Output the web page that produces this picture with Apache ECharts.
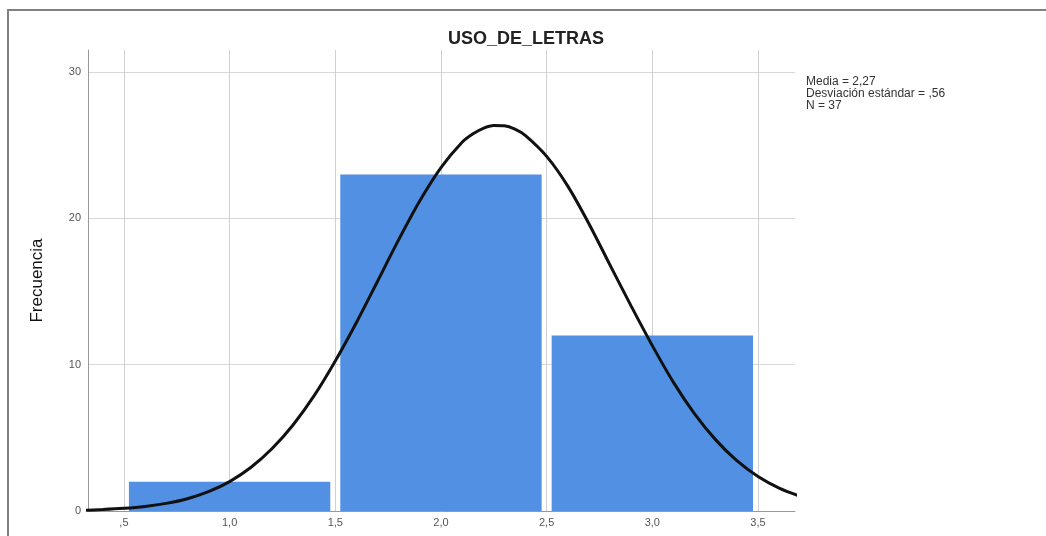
<!DOCTYPE html>
<html>
<head>
<meta charset="utf-8">
<script src="https://cdn.jsdelivr.net/npm/echarts@6/dist/echarts.min.js"></script>
<style>
html,body{margin:0;padding:0;background:#fff;}
#chart{width:1046px;height:536px;}
</style>
</head>
<body>
<div id="chart"></div>
<script>
// Histogram bins (start, end) and frequencies
const binStarts = [0.5, 1.5, 2.5];
const binEnds = [1.5, 2.5, 3.5];
const frequencies = [2, 23, 12];

// Normal curve, points
const curveX = [0.3, 0.4, 0.5, 0.6, 0.7, 0.8, 0.9, 1.0, 1.1, 1.2, 1.3, 1.4, 1.5, 1.6, 1.7, 1.8, 1.9, 2.0, 2.1, 2.15, 2.2, 2.25, 2.3, 2.35, 2.4, 2.5, 2.6, 2.7, 2.8, 2.9, 3.0, 3.1, 3.2, 3.3, 3.4, 3.5, 3.6, 3.7];
const curveY = [0.05, 0.10, 0.18, 0.31, 0.52, 0.84, 1.32, 2.01, 2.97, 4.25, 5.88, 7.88, 10.25, 12.88, 15.7, 18.54, 21.2, 23.47, 25.2, 25.76, 26.15, 26.34, 26.32, 26.09, 25.65, 24.23, 22.2, 19.63, 16.8, 14.0, 11.3, 8.79, 6.64, 4.86, 3.44, 2.36, 1.57, 1.01];

const xTicks = [0.5, 1.0, 1.5, 2.0, 2.5, 3.0, 3.5];
const xTickLabels = [',5', '1,0', '1,5', '2,0', '2,5', '3,0', '3,5'];
const yTicks = [0, 10, 20, 30];

const titleText = 'USO_DE_LETRAS';
const yAxisTitle = 'Frecuencia';
const statsLines = ['Media = 2,27', 'Desviación estándar = ,56', 'N = 37'];

const chart = echarts.init(document.getElementById('chart'));

const barData = binStarts.map((s, i) => [s, binEnds[i], frequencies[i]]);
const lineData = curveX.map((x, i) => [x, curveY[i]]);

const option = {
  backgroundColor: '#fff',
  animation: false,
  title: {
    text: titleText,
    left: 521,
    textAlign: 'center',
    top: 25,
    textStyle: {fontFamily: 'Liberation Sans, Arial', fontSize: 18, fontWeight: 'bold', color: '#222'}
  },
  graphic: [
    {type: 'polyline', shape: {points: [[8, 536], [8, 10], [1046, 10]]}, style: {stroke: '#808080', lineWidth: 2, fill: null}},
    {type: 'text', left: 806, top: 76, style: {text: statsLines.join('\n'), font: '12px Liberation Sans, Arial', fill: '#333', lineHeight: 12}}
  ],
  grid: {left: 88, right: 251, top: 50, bottom: 25, containLabel: false},
  xAxis: {
    type: 'value',
    min: 0.33,
    max: 3.675,
    axisLine: {show: true, lineStyle: {color: '#999', width: 1}},
    axisTick: {show: false, customValues: xTicks},
    axisLabel: {
      customValues: xTicks,
      formatter: function (v) {
        const i = xTicks.findIndex(t => Math.abs(t - v) < 1e-6);
        return i >= 0 ? xTickLabels[i] : '';
      },
      fontFamily: 'Liberation Sans, Arial', fontSize: 11, color: '#555', margin: 6
    },
    splitLine: {show: true, lineStyle: {color: '#d0d0d0', width: 1}}
  },
  yAxis: {
    type: 'value',
    min: 0,
    max: 31.5,
    name: yAxisTitle,
    nameLocation: 'middle',
    nameGap: 42,
    nameTextStyle: {fontFamily: 'Liberation Sans, Arial', fontSize: 17, color: '#111'},
    axisLine: {show: true, lineStyle: {color: '#999', width: 1}},
    axisTick: {show: false, customValues: yTicks},
    axisLabel: {customValues: yTicks, fontFamily: 'Liberation Sans, Arial', fontSize: 11, color: '#555', margin: 7},
    splitLine: {show: true, lineStyle: {color: '#d8d8d8', width: 1}}
  },
  series: [
    {
      type: 'custom',
      data: barData,
      encode: {x: [0, 1], y: 2},
      renderItem: function (params, api) {
        const p0 = api.coord([api.value(0), api.value(2)]);
        const p1 = api.coord([api.value(1), 0]);
        const inset = 5;
        return {
          type: 'rect',
          shape: {x: p0[0] + inset, y: p0[1], width: p1[0] - p0[0] - 2 * inset, height: p1[1] - p0[1]},
          style: {fill: '#5190e2'}
        };
      },
      z: 2
    },
    {
      type: 'line',
      data: lineData,
      smooth: 0.3,
      clip: true,
      showSymbol: false,
      lineStyle: {color: '#111', width: 3},
      z: 3
    }
  ]
};
chart.setOption(option);
</script>
</body>
</html>
